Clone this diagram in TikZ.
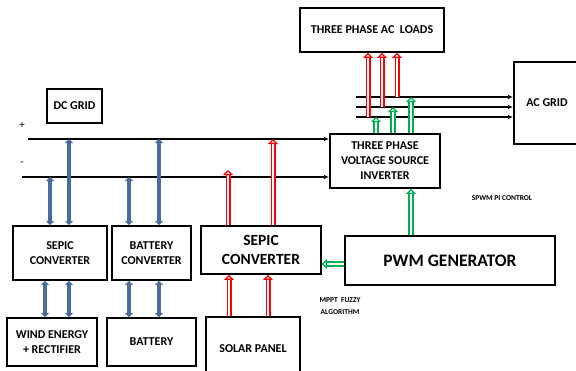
\documentclass[tikz,border=0pt]{standalone}
\usepackage{fontspec}
\setmainfont{Carlito}
\usetikzlibrary{arrows.meta, positioning, calc}

\definecolor{busblue}{RGB}{72,108,156}
\definecolor{pwmgreen}{RGB}{0,176,80}

\tikzset{
  blk/.style={draw, line width=1.8pt, align=center, font=\bfseries\fontsize{12}{14.5}\selectfont,
              inner sep=0pt},
  bus/.style={line width=1.4pt, -{Latex[length=5pt,width=4.5pt]}},
  bluearrow/.style={busblue, line width=3.6pt, {Triangle[length=4pt,width=8pt]}-{Triangle[length=4pt,width=8pt]}},
  redarrow/.style={red, line width=1.4pt, double=white, double distance=2.2pt,
                   -{Triangle[open, length=5pt, width=10pt]}},
  greenarrow/.style={pwmgreen, line width=1.4pt, double=white, double distance=2.4pt,
                     -{Triangle[open, length=5pt, width=10pt]}},
  note/.style={font=\bfseries\fontsize{7.5}{12}\selectfont, align=center}
}

\begin{document}
\begin{tikzpicture}[x=1pt, y=-1pt]
  \useasboundingbox (0,0) rectangle (576,370);

  % Blocks
  \node[blk, minimum width=55pt, minimum height=34pt] (dcgrid) at (74.5,106) {DC GRID};
  \node[blk, minimum width=94pt, minimum height=54pt] (sepicw) at (60,253) {SEPIC\\CONVERTER};
  \node[blk, minimum width=79pt, minimum height=54pt] (batconv) at (151.5,253) {BATTERY\\CONVERTER};
  \node[blk, minimum width=120pt, minimum height=48pt, font=\bfseries\fontsize{15.5}{19}\selectfont]
    (sepics) at (261,250) {SEPIC\\CONVERTER};
  \node[blk, minimum width=90pt, minimum height=48pt] (wind) at (52,342) {WIND ENERGY\\+ RECTIFIER};
  \node[blk, minimum width=89pt, minimum height=48pt] (battery) at (151.5,342) {BATTERY};
  \node[blk, minimum width=94pt, minimum height=63pt] (solar) at (253,348.5) {SOLAR PANEL};
  \node[blk, minimum width=110pt, minimum height=54pt, font=\bfseries\fontsize{12}{15}\selectfont]
    (inv) at (385,161) {THREE PHASE\\VOLTAGE SOURCE\\INVERTER};
  \node[blk, minimum width=144pt, minimum height=44pt] (acloads) at (372,30) {THREE PHASE AC\ \ LOADS};
  \node[blk, minimum width=66pt, minimum height=82pt] (acgrid) at (547,103) {AC GRID};
  \node[blk, minimum width=210pt, minimum height=49pt, font=\bfseries\fontsize{17.5}{20}\selectfont]
    (pwm) at (450,260.5) {PWM GENERATOR};

  % Labels
  \node[font=\fontsize{11}{12}\selectfont] (plus) at (22,125) {+};
  \node[font=\fontsize{11}{12}\selectfont] (minus) at (22,164) {-};
  \node[note] (spwm) at (502,198) {SPWM PI CONTROL};
  \node[note] (mppt) at (340,306) {MPPT\ \ FUZZY\\ALGORITHM};

  % DC bus and three phase lines
  \coordinate (buspos) at (28,139);
  \coordinate (busneg) at (22,177);
  \coordinate (ph1) at (356,97);
  \coordinate (ph2) at (356,107);
  \coordinate (ph3) at (356,117);
  \draw[bus] (buspos) -- (buspos -| inv.west);
  \draw[bus] (busneg) -- (busneg -| inv.west);
  \foreach \p in {ph1, ph2, ph3}
    \draw[bus] (\p) -- (\p -| acgrid.west);

  % Wind and battery side
  \draw[bluearrow] ([xshift=-10pt]sepicw.north) -- ([xshift=-10pt]sepicw.north |- busneg);
  \draw[bluearrow] ([xshift=9pt]sepicw.north) -- ([xshift=9pt]sepicw.north |- buspos);
  \draw[bluearrow] ([xshift=-22.5pt]batconv.north) -- ([xshift=-22.5pt]batconv.north |- busneg);
  \draw[bluearrow] ([xshift=7.5pt]batconv.north) -- ([xshift=7.5pt]batconv.north |- buspos);
  \draw[bluearrow] ([xshift=-7pt]wind.north) -- ([xshift=-7pt]wind.north |- sepicw.south);
  \draw[bluearrow] ([xshift=17pt]wind.north) -- ([xshift=17pt]wind.north |- sepicw.south);
  \draw[bluearrow] ([xshift=-22.5pt]battery.north) -- ([xshift=-22.5pt]battery.north |- batconv.south);
  \draw[bluearrow] ([xshift=7.5pt]battery.north) -- ([xshift=7.5pt]battery.north |- batconv.south);

  % Solar side
  \draw[redarrow] ([xshift=-24pt]solar.north) -- ([xshift=-24pt]solar.north |- sepics.south);
  \draw[redarrow] ([xshift=15pt]solar.north) -- ([xshift=15pt]solar.north |- sepics.south);
  \draw[redarrow] ([xshift=-33pt]sepics.north) -- ([xshift=-33pt,yshift=7pt]sepics.north |- busneg);
  \draw[redarrow] ([xshift=12pt]sepics.north) -- ([xshift=12pt]sepics.north |- buspos);

  % Loads
  \draw[redarrow] ([xshift=-4pt]acloads.south |- ph3) -- ([xshift=-4pt]acloads.south);
  \draw[redarrow] ([xshift=10pt]acloads.south |- ph2) -- ([xshift=10pt]acloads.south);
  \draw[redarrow] ([xshift=25pt]acloads.south |- ph1) -- ([xshift=25pt]acloads.south);

  % Inverter outputs and control
  \draw[greenarrow] ([xshift=-9pt]inv.north) -- ([xshift=-9pt]inv.north |- ph3);
  \draw[greenarrow] ([xshift=8pt]inv.north) -- ([xshift=8pt]inv.north |- ph2);
  \draw[greenarrow] ([xshift=26pt]inv.north) -- ([xshift=26pt]inv.north |- ph1);
  \draw[greenarrow] ([xshift=26pt]inv.south |- pwm.north) -- ([xshift=26pt]inv.south);
  \draw[greenarrow] ([yshift=-3.5pt]pwm.west) -- ([yshift=-3.5pt]pwm.west -| sepics.east);
\end{tikzpicture}
\end{document}
